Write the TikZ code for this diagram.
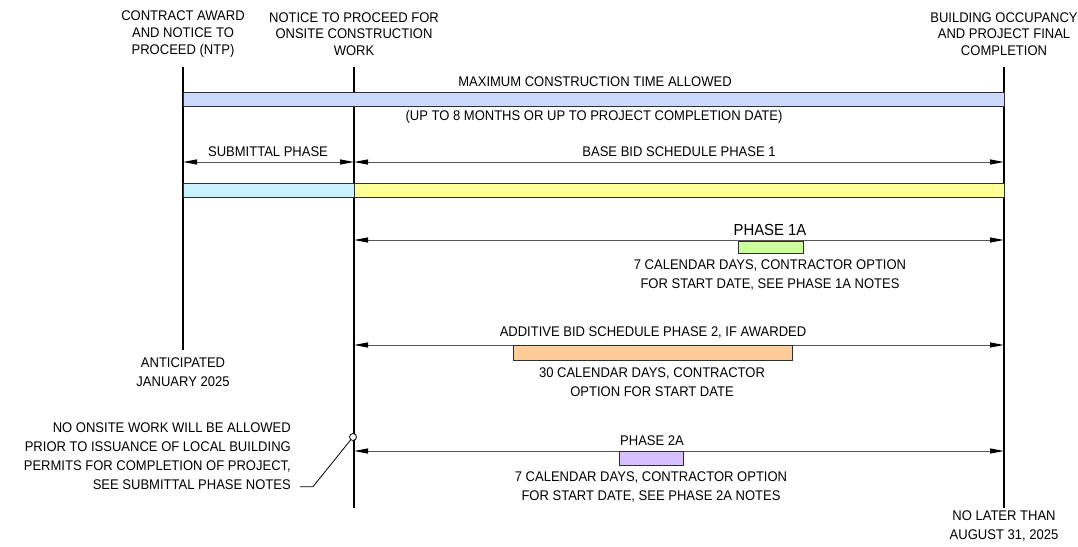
\documentclass[tikz,border=0pt]{standalone}
\usepackage{fontspec}
\setmainfont{Liberation Sans}[FakeStretch=0.93]
\usepackage{tikz}
\usetikzlibrary{arrows.meta,positioning,calc}
\definecolor{maxblue}{HTML}{CCD9FF}
\definecolor{subcyan}{HTML}{C9F0FF}
\definecolor{baseyel}{HTML}{FFFF99}
\definecolor{greenbar}{HTML}{CCFF99}
\definecolor{orangebar}{HTML}{FFCC99}
\definecolor{purplebar}{HTML}{D6BFFF}
\definecolor{dimgrey}{HTML}{555555}
\definecolor{edgegrey}{HTML}{2E2E2E}
\tikzset{
  milestone/.style={line width=1.5pt, black},
  dimline/.style={
    {Triangle[length=14pt,width=5pt,color=black]}-{Triangle[length=14pt,width=5pt,color=black]},
    line width=1pt, color=dimgrey
  },
  bar/.style={draw=edgegrey, line width=1pt, fill=#1},
  bar/.default=maxblue,
  lbl/.style={inner sep=0pt, align=center, font=\fontsize{14}{19}\selectfont},
  toplbl/.style={lbl, font=\fontsize{14}{16.7}\selectfont},
  leader/.style={line width=0.8pt, black},
}
\begin{document}
\begin{tikzpicture}[x=1pt, y=-1pt]
  \useasboundingbox (0,0) rectangle (1078,546);

  % milestone lines
  \coordinate (award top) at (183,67);
  \coordinate (award bot) at (183,350);
  \coordinate (onsite top) at (354,67);
  \coordinate (onsite bot) at (354,508);
  \coordinate (final top) at (1004,67);
  \coordinate (final bot) at (1004,508);

  \draw[milestone] (award top) -- (award bot);
  \draw[milestone] (onsite top) -- (onsite bot);
  \draw[milestone] (final top) -- (final bot);

  % milestone labels
  \node[toplbl] (award lbl) at (183,34) {CONTRACT AWARD\\AND NOTICE TO\\PROCEED (NTP)};
  \node[toplbl] (onsite lbl) at (354,34) {NOTICE TO PROCEED FOR\\ONSITE CONSTRUCTION\\WORK};
  \node[toplbl] (final lbl) at (1004,34) {BUILDING OCCUPANCY\\AND PROJECT FINAL\\COMPLETION};
  \node[lbl] (award date) at (183,372) {ANTICIPATED\\JANUARY 2025};
  \node[lbl] (final date) at (1004,526) {NO LATER THAN\\AUGUST 31, 2025};

  % maximum construction time
  \draw[bar=maxblue] (award top |- 0,92) rectangle (final top |- 0,106);
  \node[lbl] (max lbl) at (595,82) {MAXIMUM CONSTRUCTION TIME ALLOWED};
  \node[lbl] (max note) at (594,117) {(UP TO 8 MONTHS OR UP TO PROJECT COMPLETION DATE)};

  % submittal and base bid phase 1
  \draw[dimline] (award top |- 0,162) coordinate (sub l) -- (onsite top |- 0,162) coordinate (sub r);
  \draw[dimline] (sub r) -- (final top |- 0,162) coordinate (base r);
  \node[lbl] (sub lbl) at (268,152) {SUBMITTAL PHASE};
  \node[lbl] (base lbl) at (679,152) {BASE BID SCHEDULE PHASE 1};
  \draw[bar=subcyan] (award top |- 0,183) rectangle (onsite top |- 0,197);
  \draw[bar=baseyel] (onsite top |- 0,183) rectangle (final top |- 0,197);

  % phase 1A
  \draw[dimline] (onsite top |- 0,240) -- (final top |- 0,240);
  \node[lbl, font=\fontsize{16}{19}\selectfont] (p1a lbl) at (770,230) {PHASE 1A};
  \draw[bar=greenbar] (738,241) rectangle (803,253);
  \node[lbl] (p1a note) at (770,275) {7 CALENDAR DAYS, CONTRACTOR OPTION\\FOR START DATE, SEE PHASE 1A NOTES};

  % additive phase 2
  \draw[dimline] (onsite top |- 0,345) -- (final top |- 0,345);
  \node[lbl] (p2 lbl) at (653,333) {ADDITIVE BID SCHEDULE PHASE 2, IF AWARDED};
  \draw[bar=orangebar] (513,345) rectangle (792,360);
  \node[lbl] (p2 note) at (652,382) {30 CALENDAR DAYS, CONTRACTOR\\OPTION FOR START DATE};

  % phase 2A
  \draw[dimline] (onsite top |- 0,451) -- (final top |- 0,451);
  \node[lbl] (p2a lbl) at (652,441) {PHASE 2A};
  \draw[bar=purplebar] (619,451) rectangle (683,465);
  \node[lbl] (p2a note) at (651,487) {7 CALENDAR DAYS, CONTRACTOR OPTION\\FOR START DATE, SEE PHASE 2A NOTES};

  % onsite work note
  \node[lbl, align=right, anchor=east] (onsite note) at (291,456)
    {NO ONSITE WORK WILL BE ALLOWED\\PRIOR TO ISSUANCE OF LOCAL BUILDING\\PERMITS FOR COMPLETION OF PROJECT,\\SEE SUBMITTAL PHASE NOTES};
  \node[draw, circle, inner sep=0pt, minimum size=7pt, line width=0.8pt, fill=white] (pin) at (353,437) {};
  \draw[leader] (onsite note.south east) ++(9,-3) coordinate (lead a) -- ++(13,0) coordinate (lead b) -- (pin);
\end{tikzpicture}
\end{document}
